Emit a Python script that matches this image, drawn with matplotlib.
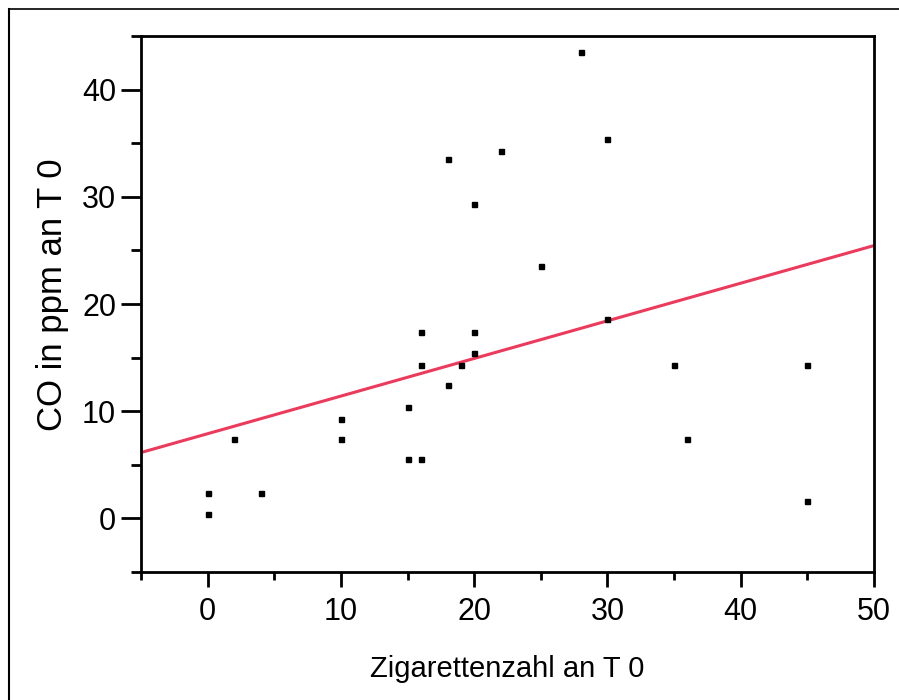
import numpy as np
import matplotlib
matplotlib.use("Agg")
import matplotlib.pyplot as plt
from matplotlib.lines import Line2D

# data
cigarettes = [0, 0, 2, 4, 10, 10, 15, 15, 16, 16, 16, 18, 18, 19, 20, 20, 20,
              22, 25, 28, 30, 30, 35, 36, 45, 45]
co_ppm = [2.4, 0.4, 7.4, 2.4, 9.3, 7.4, 10.4, 5.5, 5.5, 17.4, 14.3, 12.4, 33.5,
          14.3, 17.4, 15.4, 29.3, 34.3, 23.5, 43.5, 35.4, 18.6, 14.3, 7.4, 14.3, 1.6]

# regression line as drawn in the reference
fit_intercept = 7.9
fit_slope = 0.351

x_ticks = [0, 10, 20, 30, 40, 50]
y_ticks = [0, 10, 20, 30, 40]

plt.rcParams['font.family'] = ['Liberation Sans', 'DejaVu Sans']

fig = plt.figure(figsize=(8.99, 7.0), dpi=100)
ax = fig.add_axes([141/899, 1 - 572/700, (874 - 141)/899, (572 - 36)/700])

ax.plot(cigarettes, co_ppm, linestyle='none', marker='s', markersize=3.6,
        color='black', zorder=3)

xs = np.array([-5, 50])
ax.plot(xs, fit_intercept + fit_slope * xs, color='#EC3A5C', linewidth=2.2, zorder=2)

ax.set_xlim(-5, 50)
ax.set_ylim(-5, 45)
ax.set_xticks(x_ticks)
ax.set_yticks(y_ticks)
ax.set_xticks(np.arange(-5, 51, 10), minor=True)
ax.set_yticks(np.arange(-5, 46, 10), minor=True)

for sp in ax.spines.values():
    sp.set_linewidth(2.0)

ax.tick_params(axis='both', which='both', direction='out', width=2.0, colors='black')
ax.tick_params(axis='x', which='major', length=11, pad=7, labelsize=22)
ax.tick_params(axis='x', which='minor', length=6)
ax.tick_params(axis='y', which='major', length=14.5, pad=3.5, labelsize=22)
ax.tick_params(axis='y', which='minor', length=7.5)

ax.set_xlabel('Zigarettenzahl an T 0', fontsize=21, labelpad=20)
ax.set_ylabel('CO in ppm an T 0', fontsize=25, labelpad=9)
ax.yaxis.label.set_y(0.518)

# outer frame (only left and top edges visible)
fig.add_artist(Line2D([9/899, 9/899], [0, 1 - 9/700], transform=fig.transFigure,
                      color='black', linewidth=1.5))
fig.add_artist(Line2D([9/899, 1], [1 - 9/700, 1 - 9/700], transform=fig.transFigure,
                      color='black', linewidth=1.2))

fig.savefig("out.png", dpi=100)
